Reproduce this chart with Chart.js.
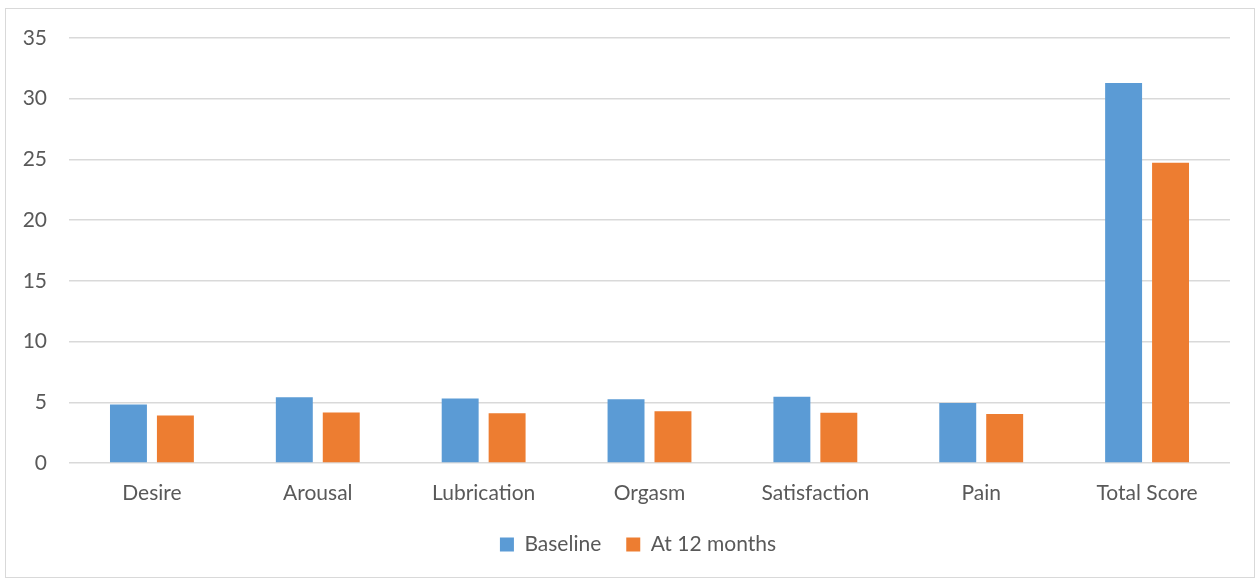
<!DOCTYPE html>
<html>
<head>
<meta charset="utf-8">
<script src="https://cdn.jsdelivr.net/npm/chart.js@4"></script>
<style>
  body { margin: 0; background: #fff; }
  #wrap { position: absolute; left: 5px; top: 8px; width: 1250px; height: 570px; border: 1px solid #d9d9d9; box-sizing: border-box; }
</style>
</head>
<body>
<div id="wrap"><canvas id="chart"></canvas></div>
<script>
var categories = ['Desire', 'Arousal', 'Lubrication', 'Orgasm', 'Satisfaction', 'Pain', 'Total Score'];
var baseline = [4.82, 5.42, 5.31, 5.26, 5.45, 4.95, 31.3];
var at12months = [3.91, 4.16, 4.1, 4.27, 4.13, 4.04, 24.73];
var yTicks = [0, 5, 10, 15, 20, 25, 30, 35];

Chart.defaults.font.family = 'Lato, "Open Sans", sans-serif';
Chart.defaults.font.size = 21;
Chart.defaults.color = '#595959';

// nudge the legend to the right a bit, like the original
var legendShift = {
    id: 'legendShift',
    afterLayout: function (chart) {
        chart.legend.left += 20;
        chart.legend.right += 20;
    }
};

var ctx = document.getElementById('chart').getContext('2d');
var myChart = new Chart(ctx, {
    type: 'bar',
    data: {
        labels: categories,
        datasets: [{
            label: 'Baseline',
            data: baseline,
            backgroundColor: '#5b9bd5',
            barPercentage: 0.787,
            categoryPercentage: 0.566
        }, {
            label: 'At 12 months',
            data: at12months,
            backgroundColor: '#ed7d31',
            barPercentage: 0.787,
            categoryPercentage: 0.566
        }]
    },
    plugins: [legendShift],
    options: {
        responsive: true,
        maintainAspectRatio: false,
        animation: false,
        layout: { padding: { left: 0, right: 24, top: 0, bottom: 12 } },
        plugins: {
            legend: {
                position: 'bottom',
                labels: { boxWidth: 14, boxHeight: 14, padding: 25 }
            },
            tooltip: { enabled: false }
        },
        scales: {
            x: {
                grid: { display: false, drawTicks: false },
                border: { display: false },
                ticks: { padding: 18 },
                afterFit: function (axis) { axis.height = 46; }
            },
            y: {
                min: 0,
                max: 35,
                afterBuildTicks: function (axis) {
                    axis.ticks = yTicks.map(function (v) { return { value: v }; });
                },
                afterFit: function (axis) {
                    axis.width = 63;
                    axis.paddingTop = 29;
                    axis.paddingBottom = 0;
                },
                grid: { color: '#d9d9d9', lineWidth: 1.5, drawTicks: false },
                border: { display: false },
                ticks: { padding: 22 }
            }
        }
    }
});
</script>
</body>
</html>
